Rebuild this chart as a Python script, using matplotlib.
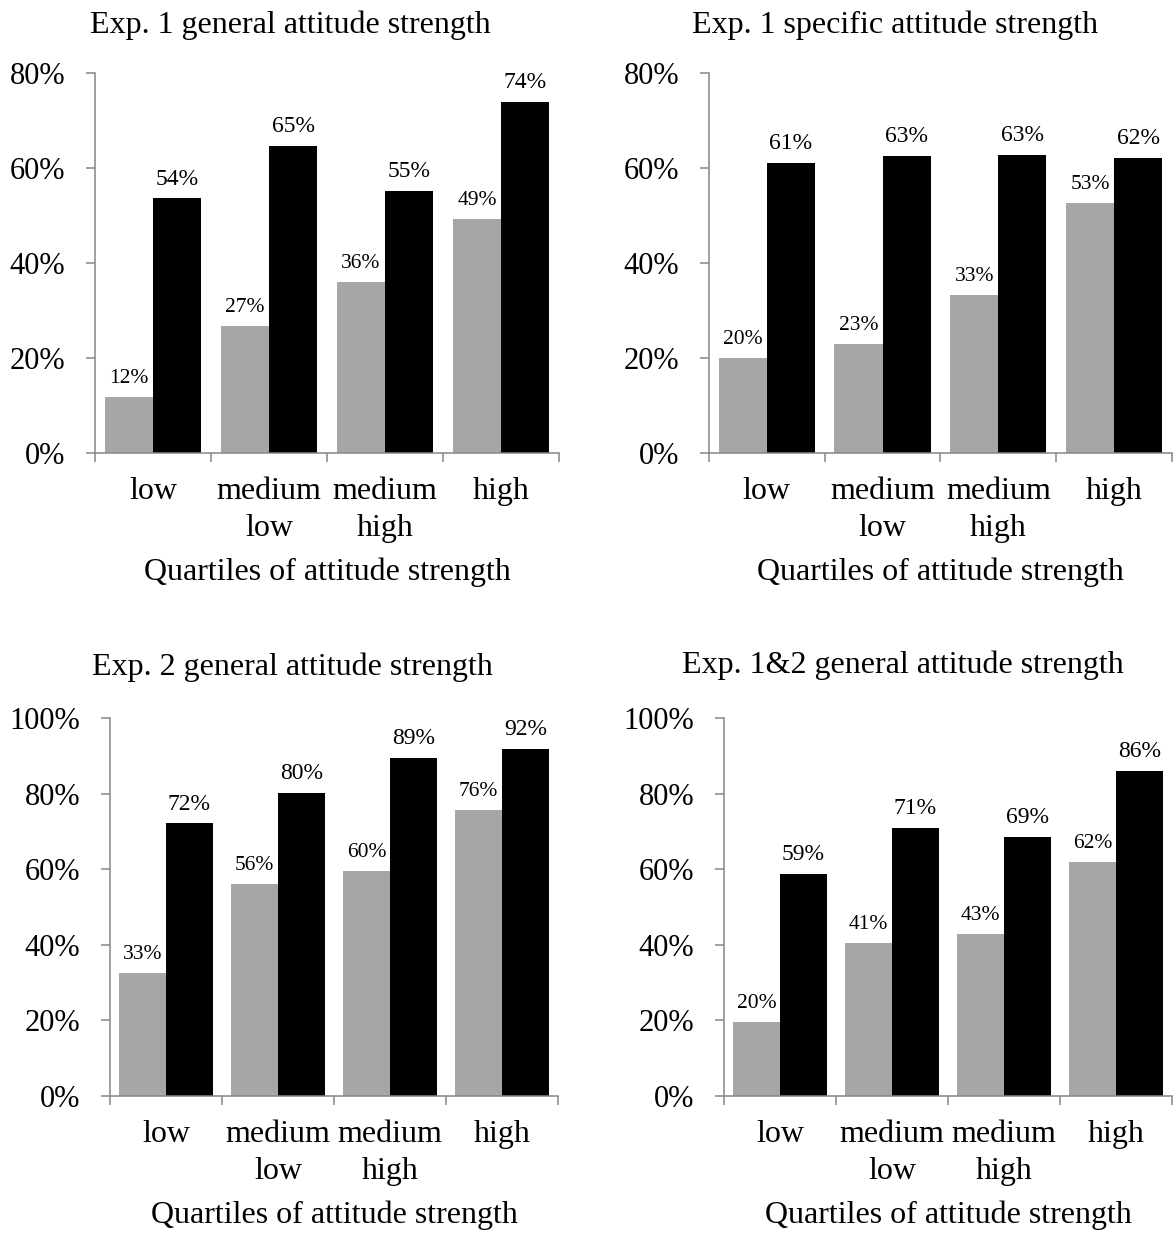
import matplotlib
matplotlib.use("Agg")
import matplotlib.pyplot as plt
from matplotlib.ticker import FuncFormatter

plt.rcParams['font.family'] = ['Liberation Serif', 'DejaVu Serif']

# ---- Données ----
categories = ["low", "medium\nlow", "medium\nhigh", "high"]
x_label = "Quartiles of attitude strength"

titles = [
    "Exp. 1 general attitude strength",
    "Exp. 1 specific attitude strength",
    "Exp. 2 general attitude strength",
    "Exp. 1&2 general attitude strength",
]

exp1_general_grey = [11.8, 26.7, 36.0, 49.3]
exp1_general_black = [53.6, 64.6, 55.1, 73.9]

exp1_specific_grey = [20.1, 22.9, 33.3, 52.7]
exp1_specific_black = [61.0, 62.6, 62.7, 62.2]

exp2_general_grey = [32.6, 56.2, 59.6, 75.6]
exp2_general_black = [72.1, 80.1, 89.4, 91.9]

exp12_general_grey = [19.6, 40.6, 42.8, 61.8]
exp12_general_black = [58.8, 70.8, 68.6, 85.9]

y_max = [80, 80, 100, 100]

GREY = "#a6a6a6"
AXIS_GREY = "#868686"
PX = 0.72  # 1 px en points (dpi 100)

fig = plt.figure(figsize=(11.73, 12.36), dpi=100)

# positions des axes (fraction de figure)
rects = [
    [0.0810, 0.6335, 0.3956, 0.3074],
    [0.6044, 0.6335, 0.3947, 0.3074],
    [0.0938, 0.1133, 0.3819, 0.3058],
    [0.6172, 0.1133, 0.3819, 0.3058],
]
title_pos = [(290, 33), (895, 33), (292, 675), (903, 673)]

series = [
    (exp1_general_grey, exp1_general_black),
    (exp1_specific_grey, exp1_specific_black),
    (exp2_general_grey, exp2_general_black),
    (exp12_general_grey, exp12_general_black),
]


def draw_panel(ax, grey, black, ymax):
    w = 0.416
    n = len(categories)
    x_grey = [i + 0.5 - w / 2 for i in range(n)]
    x_black = [i + 0.5 + w / 2 for i in range(n)]
    ax.bar(x_grey, grey, width=w, color=GREY, linewidth=0)
    ax.bar(x_black, black, width=w, color="black", linewidth=0)

    # --------- étiquettes de valeurs ---------
    for i in range(n):
        ax.annotate(f"{grey[i]:.0f}%", (x_grey[i], grey[i]), xytext=(0, 10),
                    textcoords="offset points", ha="center", va="baseline", fontsize=15.5)
        ax.annotate(f"{black[i]:.0f}%", (x_black[i], black[i]), xytext=(0, 10),
                    textcoords="offset points", ha="center", va="baseline", fontsize=17)

    ax.set_xlim(0, n)
    ax.set_ylim(0, ymax)
    ax.set_yticks(range(0, ymax + 1, 20))
    ax.yaxis.set_major_formatter(FuncFormatter(lambda v, _: f"{v:.0f}%"))
    ax.set_xticks(range(n + 1))
    ax.set_xticklabels([])

    for s in ("top", "right"):
        ax.spines[s].set_visible(False)
    for s in ("left", "bottom"):
        ax.spines[s].set_color(AXIS_GREY)
        ax.spines[s].set_linewidth(1.1)
    ax.tick_params(axis="both", direction="out", length=9 * PX, width=1.1, color=AXIS_GREY)
    ax.tick_params(axis="y", labelsize=22, pad=15)

    # --------- libellés de catégories (une ligne à la fois) ---------
    for i, c in enumerate(categories):
        for j, line in enumerate(c.split("\n")):
            ax.annotate(line, (i + 0.5, 0), xycoords=("data", "axes fraction"),
                        xytext=(0, -(46 + 37 * j) * PX), textcoords="offset points",
                        ha="center", va="baseline", fontsize=23)
    ax.annotate(x_label, (0.5, 0), xycoords="axes fraction",
                xytext=(0, -127 * PX), textcoords="offset points",
                ha="center", va="baseline", fontsize=23)


for k in range(4):
    ax = fig.add_axes(rects[k])
    draw_panel(ax, series[k][0], series[k][1], y_max[k])
    tx, ty = title_pos[k]
    fig.text(tx / 1173, 1 - ty / 1236, titles[k], ha="center", va="baseline", fontsize=23)

fig.savefig("out.png", dpi=100)
